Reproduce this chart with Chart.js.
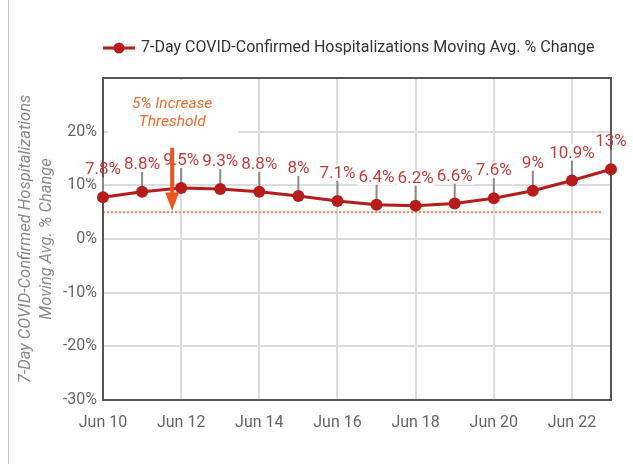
<!DOCTYPE html>
<html>
<head>
<meta charset="utf-8">
<script src="https://cdn.jsdelivr.net/npm/chart.js@4.4.1/dist/chart.umd.min.js"></script>
<style>
    html, body { margin: 0; padding: 0; background: #fff; }
    #contenedor { position: relative; width: 633px; height: 464px; }
    #marco { position: absolute; left: 8px; top: 0; width: 1px; height: 464px; background: #c4c4c4; }
    canvas { position: absolute; left: 0; top: 0; }
</style>
</head>
<body>
<div id="contenedor">
    <div id="marco"></div>
    <canvas id="graficoHospitalizaciones" width="633" height="464"></canvas>
</div>
<script>
const fechas = ['Jun 10', 'Jun 11', 'Jun 12', 'Jun 13', 'Jun 14', 'Jun 15', 'Jun 16',
    'Jun 17', 'Jun 18', 'Jun 19', 'Jun 20', 'Jun 21', 'Jun 22', 'Jun 23'];
const cambioPct = [7.8, 8.8, 9.5, 9.3, 8.8, 8, 7.1, 6.4, 6.2, 6.6, 7.6, 9, 10.9, 13];
const yTicks = [-30, -20, -10, 0, 10, 20, 30];
const serieNombre = '7-Day COVID-Confirmed Hospitalizations Moving Avg. % Change';
const ejeYTitulo = ['7-Day COVID-Confirmed Hospitalizations', 'Moving Avg. % Change'];
const umbral = 5;
const umbralTexto = ['5% Increase', 'Threshold'];

const rojo = '#b71c1c';
const rojoEtiqueta = '#c43c3c';
const naranja = '#ea5520';
const fuente = 'Roboto, "Liberation Sans", sans-serif';

// cosas que Chart.js no dibuja solo: umbral, flecha, etiquetas, leyenda
const extras = {
    id: 'extras',
    beforeDatasetsDraw(chart) {
        const { ctx, chartArea: a, scales: { x, y } } = chart;
        const meta = chart.getDatasetMeta(0);
        ctx.save();

        // fondo blanco del texto del umbral
        ctx.fillStyle = '#fff';
        const bx1 = x.getPixelForValue(0.13);
        const bx2 = x.getPixelForValue(3.45);
        ctx.fillRect(bx1, a.top + 2, bx2 - bx1, y.getPixelForValue(15) - a.top - 2);

        // fondo blanco de las etiquetas
        ctx.font = '17px ' + fuente;
        meta.data.forEach((p, i) => {
            const w = ctx.measureText(cambioPct[i] + '%').width;
            ctx.fillRect(p.x - w / 2 - 1, p.y - 36, w + 2, 17);
        });

        // linea del umbral
        const yU = y.getPixelForValue(umbral);
        ctx.strokeStyle = '#f37b4d';
        ctx.lineWidth = 2;
        ctx.setLineDash([2, 2]);
        ctx.beginPath();
        ctx.moveTo(a.left, yU);
        ctx.lineTo(x.getPixelForValue(12.8), yU);
        ctx.stroke();
        ctx.setLineDash([]);

        // marco
        ctx.strokeStyle = '#555';
        ctx.lineWidth = 2;
        ctx.strokeRect(a.left, a.top, a.right - a.left, a.bottom - a.top);

        // lineas guia
        ctx.strokeStyle = '#8a8a8a';
        meta.data.forEach(p => {
            ctx.beginPath();
            ctx.moveTo(p.x, p.y);
            ctx.lineTo(p.x, p.y - 20);
            ctx.stroke();
        });
        ctx.restore();
    },
    afterDatasetsDraw(chart) {
        const { ctx, chartArea: a, scales: { x, y } } = chart;
        const meta = chart.getDatasetMeta(0);
        ctx.save();

        // etiquetas
        ctx.font = '17px ' + fuente;
        ctx.fillStyle = rojoEtiqueta;
        ctx.textAlign = 'center';
        ctx.textBaseline = 'middle';
        meta.data.forEach((p, i) => {
            ctx.fillText(cambioPct[i] + '%', p.x, p.y - 27);
        });

        // flecha
        const ax = x.getPixelForValue(1.77);
        const yTop = y.getPixelForValue(17);
        const yTip = y.getPixelForValue(5.3);
        ctx.fillStyle = naranja;
        ctx.fillRect(ax - 2, yTop, 4, yTip - yTop - 16);
        ctx.beginPath();
        ctx.moveTo(ax - 7, yTip - 18);
        ctx.lineTo(ax + 7, yTip - 18);
        ctx.lineTo(ax, yTip);
        ctx.closePath();
        ctx.fill();

        // texto del umbral
        ctx.font = 'italic 15.5px ' + fuente;
        ctx.fillStyle = '#f26a2c';
        ctx.fillText(umbralTexto[0], ax, y.getPixelForValue(25.2));
        ctx.fillText(umbralTexto[1], ax, y.getPixelForValue(21.7));

        // leyenda
        const ly = a.top - 30;
        ctx.strokeStyle = rojo;
        ctx.lineWidth = 3;
        ctx.beginPath();
        ctx.moveTo(a.left, ly);
        ctx.lineTo(a.left + 32, ly);
        ctx.stroke();
        ctx.fillStyle = rojo;
        ctx.beginPath();
        ctx.arc(a.left + 16, ly, 5.5, 0, Math.PI * 2);
        ctx.fill();
        ctx.font = '16px ' + fuente;
        ctx.fillStyle = '#333';
        ctx.textAlign = 'left';
        ctx.fillText(serieNombre, a.left + 38, ly);
        ctx.restore();
    }
};

const ctxLinea = document.getElementById('graficoHospitalizaciones').getContext('2d');

new Chart(ctxLinea, {
    type: 'line',
    data: {
        labels: fechas,
        datasets: [{
            label: serieNombre,
            data: cambioPct,
            borderColor: rojo,
            backgroundColor: rojo,
            borderWidth: 3,
            pointRadius: 6,
            pointBorderWidth: 0,
            pointBackgroundColor: rojo,
            clip: false,
            tension: 0
        }]
    },
    options: {
        responsive: false,
        animation: false,
        layout: { padding: { top: 78, right: 22, bottom: 0, left: 10 } },
        plugins: {
            legend: { display: false },
            tooltip: { enabled: false }
        },
        scales: {
            x: {
                afterFit(s) { s.height = 64; },
                ticks: {
                    autoSkip: false,
                    maxRotation: 0,
                    callback: (v, i) => i % 2 === 0 ? fechas[i] : '',
                    color: '#666',
                    font: { size: 16, family: fuente },
                    padding: 13
                },
                grid: {
                    color: c => c.index % 2 === 0 ? '#dcdcdc' : 'rgba(0,0,0,0)',
                    lineWidth: 2,
                    drawTicks: false
                },
                border: { display: false }
            },
            y: {
                min: -30,
                max: 30,
                afterFit(s) { s.width = 93; },
                afterBuildTicks(s) { s.ticks = yTicks.map(v => ({ value: v })); },
                ticks: {
                    callback: v => v === 30 ? '' : v + '%',
                    color: '#666',
                    font: { size: 16, family: fuente },
                    padding: 6
                },
                grid: { color: '#dcdcdc', lineWidth: 2, drawTicks: false },
                border: { display: false },
                title: {
                    display: true,
                    text: ejeYTitulo,
                    color: '#8a8a8a',
                    font: { size: 16.5, style: 'italic', family: fuente, lineHeight: 1.3 },
                    padding: { top: 5, bottom: 0 }
                }
            }
        }
    },
    plugins: [extras]
});
</script>
</body>
</html>
